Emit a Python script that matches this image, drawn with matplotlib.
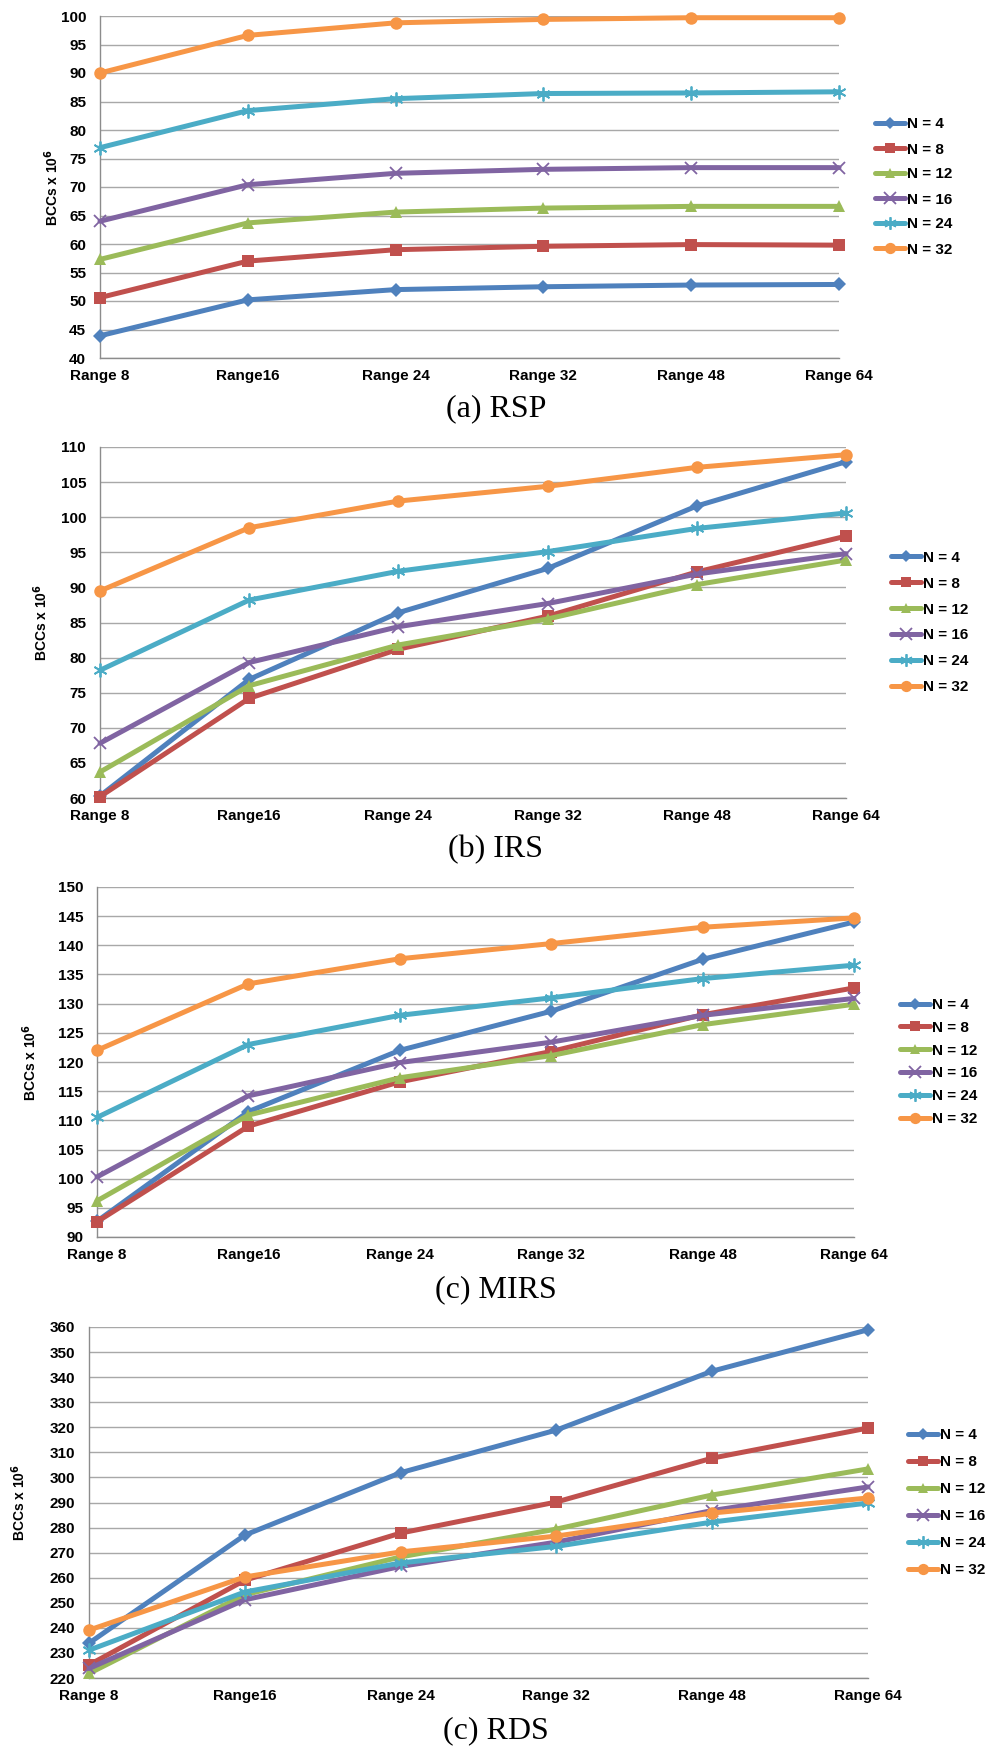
import matplotlib
matplotlib.use("Agg")
import matplotlib.pyplot as plt
from matplotlib.ticker import MultipleLocator

# ---- data -------------------------------------------------------------
ranges = ["Range 8", "Range16", "Range 24", "Range 32", "Range 48", "Range 64"]
series_labels = ["N = 4", "N = 8", "N = 12", "N = 16", "N = 24", "N = 32"]

rsp_n4 = [43.9, 50.2, 52.0, 52.5, 52.8, 52.9]
rsp_n8 = [50.6, 57.0, 59.0, 59.6, 59.9, 59.8]
rsp_n12 = [57.3, 63.7, 65.6, 66.3, 66.6, 66.6]
rsp_n16 = [64.0, 70.4, 72.4, 73.1, 73.4, 73.4]
rsp_n24 = [76.9, 83.4, 85.5, 86.4, 86.5, 86.7]
rsp_n32 = [90.0, 96.6, 98.8, 99.4, 99.7, 99.7]

irs_n4 = [60.3, 76.9, 86.4, 92.7, 101.6, 107.9]
irs_n8 = [60.2, 74.2, 81.2, 85.9, 92.2, 97.3]
irs_n12 = [63.7, 76.0, 81.8, 85.5, 90.4, 93.9]
irs_n16 = [67.8, 79.3, 84.4, 87.7, 91.9, 94.8]
irs_n24 = [78.2, 88.2, 92.3, 95.1, 98.4, 100.6]
irs_n32 = [89.5, 98.5, 102.3, 104.4, 107.1, 108.9]

mirs_n4 = [92.7, 111.5, 122.0, 128.7, 137.6, 144.0]
mirs_n8 = [92.6, 109.0, 116.6, 121.8, 128.1, 132.7]
mirs_n12 = [96.2, 110.9, 117.3, 121.1, 126.4, 129.9]
mirs_n16 = [100.3, 114.2, 119.9, 123.4, 128.0, 130.9]
mirs_n24 = [110.5, 123.0, 128.0, 131.0, 134.3, 136.6]
mirs_n32 = [122.0, 133.4, 137.7, 140.3, 143.1, 144.7]

rds_n4 = [233.9, 277.0, 301.9, 318.9, 342.4, 358.9]
rds_n8 = [225.2, 259.0, 277.8, 290.2, 307.7, 319.7]
rds_n12 = [221.8, 253.2, 268.3, 279.4, 293.0, 303.4]
rds_n16 = [223.8, 251.2, 264.5, 274.2, 286.8, 296.2]
rds_n24 = [231.1, 254.3, 265.9, 272.5, 282.2, 289.8]
rds_n32 = [239.1, 260.3, 270.3, 276.6, 285.8, 291.8]

captions = ["(a) RSP", "(b) IRS", "(c) MIRS", "(c) RDS"]

# ---- styling ----------------------------------------------------------
colors = ["#4F81BD", "#C0504D", "#9BBB59", "#8064A2", "#4BACC6", "#F79646"]
markers = ["D", "s", "^", "x", (6, 2, 0), "o"]
msizes = [7, 8.5, 8.5, 9, 10, 9]

W, H = 991, 1748
fig = plt.figure(figsize=(W / 100, H / 100), dpi=100)
fig.patch.set_facecolor("white")

SANS = "Liberation Sans"


def rect(left, right, top, bottom):
    return [left / W, 1 - bottom / H, (right - left) / W, (bottom - top) / H]


panels = [
    dict(data=[rsp_n4, rsp_n8, rsp_n12, rsp_n16, rsp_n24, rsp_n32],
         box=(100, 839, 16, 358), ylim=(40, 100), step=5,
         ylab_x=52, leg_x=867, leg_spacing=0.72, cap_y=409),
    dict(data=[irs_n4, irs_n8, irs_n12, irs_n16, irs_n24, irs_n32],
         box=(100, 846, 447, 798), ylim=(60, 110), step=5,
         ylab_x=41, leg_x=883, leg_spacing=0.78, cap_y=850),
    dict(data=[mirs_n4, mirs_n8, mirs_n12, mirs_n16, mirs_n24, mirs_n32],
         box=(97, 854, 887, 1237), ylim=(90, 150), step=5,
         ylab_x=30, leg_x=892, leg_spacing=0.58, cap_y=1290),
    dict(data=[rds_n4, rds_n8, rds_n12, rds_n16, rds_n24, rds_n32],
         box=(89, 868, 1327, 1678), ylim=(220, 360), step=10,
         ylab_x=19, leg_x=900, leg_spacing=0.85, cap_y=1731),
]

xs = list(range(len(ranges)))

for p, cap in zip(panels, captions):
    left, right, top, bottom = p["box"]
    ax = fig.add_axes(rect(left, right, top, bottom))
    handles = []
    for vals, lab, c, m, ms in zip(p["data"], series_labels, colors, markers, msizes):
        mew = 1.3 if m in ("x",) or isinstance(m, tuple) else 0
        h, = ax.plot(xs, vals, color=c, lw=3.6, marker=m, ms=ms,
                     mec=c, mfc=c, mew=mew, clip_on=False, zorder=3,
                     label=lab, solid_capstyle="round")
        handles.append(h)

    ax.set_xlim(0, len(ranges) - 1)
    ax.set_ylim(*p["ylim"])
    ax.yaxis.set_major_locator(MultipleLocator(p["step"]))
    ax.set_xticks(xs)
    ax.set_xticklabels(ranges)
    ax.grid(axis="y", color="#A8A8A8", lw=1.0, zorder=0)
    ax.set_axisbelow(True)
    for s in ("top", "right"):
        ax.spines[s].set_visible(False)
    for s in ("left", "bottom"):
        ax.spines[s].set_color("#8C8C8C")
        ax.spines[s].set_linewidth(1.0)
    ax.tick_params(axis="both", length=0)
    ax.tick_params(axis="y", pad=10)
    ax.tick_params(axis="x", pad=8)
    for t in ax.get_xticklabels() + ax.get_yticklabels():
        t.set_fontfamily(SANS)
        t.set_fontweight("bold")
        t.set_fontsize(11)

    # y-axis title
    yc = (top + bottom) / 2
    fig.text(p["ylab_x"] / W, 1 - yc / H, r"BCCs x 10$^{\mathbf{6}}$",
             rotation=90, ha="center", va="center",
             family=SANS, weight="bold", fontsize=10)

    # legend to the right of the plot area
    ax.legend(handles=handles, loc="center left",
              bbox_to_anchor=(p["leg_x"] / W, 1 - yc / H),
              bbox_transform=fig.transFigure, frameon=False,
              borderpad=0, handlelength=2.0, handletextpad=0.15,
              labelspacing=p["leg_spacing"], markerscale=0.9,
              prop=dict(family=SANS, weight="bold", size=11))

    # caption under each panel
    fig.text(496 / W, 1 - p["cap_y"] / H, cap, ha="center", va="center",
             family="Liberation Serif", fontsize=23)

fig.savefig("out.png", dpi=100, facecolor="white")
